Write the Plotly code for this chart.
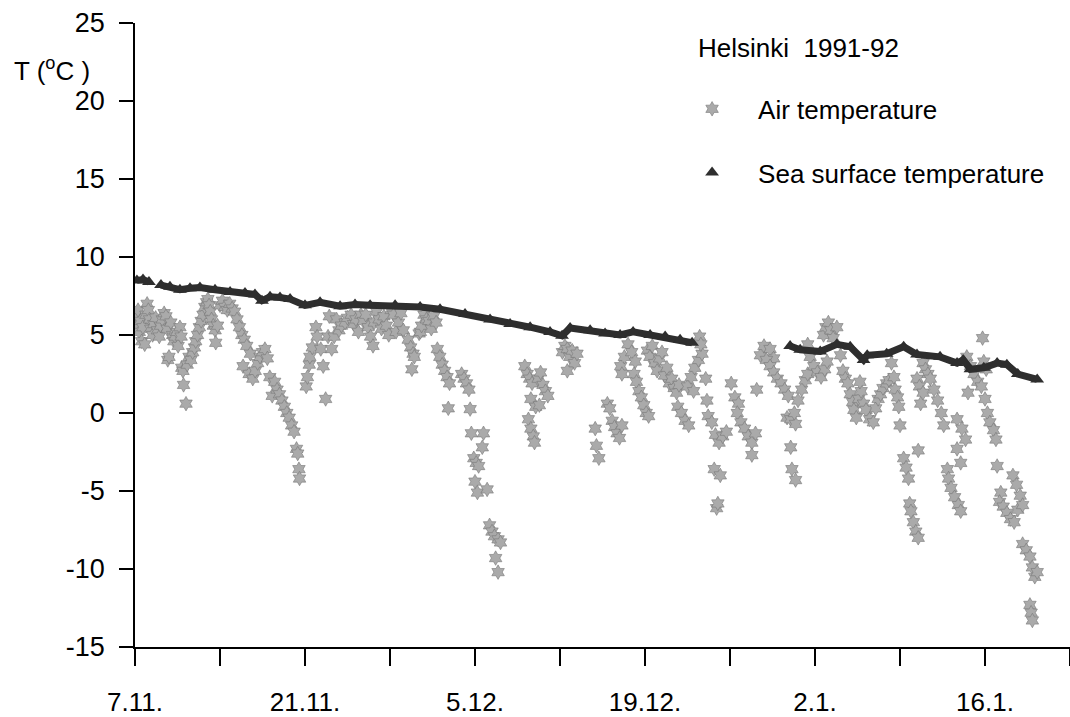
import pandas as pd
import plotly.graph_objects as go

BASE = pd.Timestamp("1991-11-07")

# Air temperature: time (days after 7.11.1991) and temperature (deg C)
air_day = [
    0.05, 0.15, 0.25, 0.35, 0.45, 0.55, 0.65, 0.8, 0.9, 1.0,
    1.1, 1.2, 1.3, 1.45, 1.55, 1.7, 1.85, 2.0, 2.1, 2.25,
    2.4, 2.55, 2.65, 2.7, 2.8, 2.95, 3.1, 3.2, 3.3, 3.45,
    3.55, 3.7, 3.8, 3.85, 3.95, 4.0, 4.2, 4.3, 4.45, 4.6,
    4.75, 4.9, 5.0, 5.15, 5.3, 5.45, 5.6, 5.75, 5.9, 6.0,
    6.1, 6.2, 6.3, 6.45, 6.6, 6.65, 6.8, 7.0, 7.2, 7.4,
    7.6, 7.8, 8.0, 8.2, 8.4, 8.6, 8.8, 8.9, 9.0, 9.2,
    9.4, 9.5, 9.7, 9.9, 10.1, 10.3, 10.5, 10.7, 10.9, 11.1,
    11.3, 11.5, 11.7, 11.9, 12.1, 12.3, 12.5, 12.7, 12.9, 13.1,
    13.3, 13.4, 13.5, 13.55,
    14.1, 14.2, 14.35, 14.4, 14.6, 14.9, 15.0, 15.3, 15.5, 15.7,
    15.9, 16.0, 16.2, 16.4, 16.6, 16.8, 17.0, 17.3, 17.5, 17.8,
    18.0, 18.2, 18.4, 18.6, 18.8, 19.0, 19.2, 19.4, 19.6, 19.7,
    19.9, 20.1, 20.3, 20.5, 20.7, 20.9, 21.1, 21.3, 21.5, 21.7,
    21.9, 22.1, 22.5, 22.7, 22.9, 23.0, 22.8, 23.4, 23.5, 23.6,
    23.8, 24.0, 24.2, 24.4, 24.6, 24.8,
    24.9, 25.1, 25.3, 25.5, 25.7, 25.9, 25.8, 26.9, 27.1, 27.3,
    27.5, 27.6, 27.7, 28.7, 28.6, 27.9, 28.1, 28.3, 28.0, 28.2,
    29.0, 29.2, 29.4, 29.6, 29.9, 30.1, 29.7, 29.9,
    32.1, 32.3, 32.5, 32.7, 33.2, 33.4, 33.6, 33.8, 34.0, 32.6,
    33.0, 33.3, 32.4, 32.6, 32.8, 32.9, 35.2, 35.4, 35.6, 35.8,
    36.0, 36.2, 36.4, 35.6, 37.9, 38.0, 38.2,
    38.9, 39.1, 39.3, 39.5, 39.7, 39.9, 40.1, 40.0, 40.3, 40.6,
    40.9, 41.2, 40.1, 41.1, 41.3, 41.5, 41.7, 41.9, 42.1, 42.3,
    42.2, 42.4, 42.6, 42.8, 43.0, 43.2, 43.4, 43.6, 43.8, 44.0,
    44.2, 44.4, 44.6, 44.8, 44.7, 45.0, 45.3, 45.6, 45.5, 45.8,
    46.1, 46.4, 46.7, 46.5, 46.6, 46.0, 47.0, 47.1,
    47.2, 47.5, 47.8, 48.1, 48.4, 48.7, 47.7, 48.2, 47.9, 48.0,
    49.1, 49.4, 49.7, 49.6, 49.9, 50.2, 50.5, 50.8, 51.1, 50.8,
    51.2, 51.5, 51.8, 52.3, 52.6, 52.0, 52.3, 52.6, 52.9, 53.2,
    53.5, 53.8, 53.7, 54.0, 54.4, 54.0, 54.1, 54.4,
    54.3, 54.6, 54.9, 55.2, 55.4, 55.4, 55.6, 55.9, 56.2, 56.5,
    56.8, 57.0, 56.7, 56.9, 57.1, 57.3, 57.5, 57.8, 58.1,
    58.3, 58.5, 58.7, 58.9, 59.1, 59.2, 59.4, 59.6, 59.8, 59.7,
    60.0, 60.2, 60.5, 60.8, 61.0, 61.2, 61.4, 61.6, 61.9, 62.1,
    62.3, 62.5, 62.6, 62.8, 62.9, 63.0,
    63.3, 63.5, 63.7, 63.8, 63.9, 64.1, 64.3, 64.5, 64.5, 64.7,
    64.9, 65.1, 65.3, 64.4, 64.6, 64.9, 65.5, 65.8, 66.1, 66.4,
    66.6, 66.9, 67.0, 67.2, 67.5, 67.8, 68.0, 67.7, 68.0, 67.7,
    68.1, 68.4, 68.6,
    68.5, 68.8, 69.1, 69.4, 69.7, 69.9, 70.1, 69.8, 70.0, 70.2,
    70.4, 70.7, 70.9, 71.0, 71.3, 71.2, 71.5, 71.8, 72.1, 72.4,
    72.7, 72.3, 72.6, 72.9, 73.1, 73.1, 73.4, 73.7, 73.9, 74.1,
    74.3, 73.7, 73.8, 73.9,
]
air_temp = [
    6.2, 5.6, 6.6, 5.2, 5.9, 4.6, 5.5, 4.4, 6.3, 7.0,
    6.6, 6.0, 5.4, 5.0, 5.7, 6.1, 5.3, 4.9, 5.6, 6.0,
    6.4, 6.2, 5.4, 3.4, 3.6, 5.8, 5.0, 4.6, 4.9, 5.2,
    4.3, 5.5, 4.9, 2.9, 2.7, 1.8, 0.6, 3.1, 3.6, 3.4,
    3.9, 4.2, 4.6, 5.0, 5.5, 5.9, 6.3, 6.8, 7.1, 7.3,
    6.9, 6.5, 6.0, 5.6, 5.3, 4.5, 5.6, 6.9, 7.2, 6.8,
    6.6, 7.0, 6.7, 6.5, 6.0, 5.5, 5.0, 3.0, 4.7, 4.3,
    2.5, 3.8, 2.2, 2.7, 3.2, 3.6, 3.9, 4.1, 3.5, 2.3,
    1.1, 2.0, 1.5, 1.2, 0.8, 0.4, 0.0, -0.3, -0.8, -1.2,
    -2.3, -2.6, -3.6, -4.2,
    1.7, 2.3, 3.1, 3.6, 4.2, 5.5, 4.9, 4.1, 3.0, 0.9,
    4.9, 6.2, 4.1, 4.9, 6.0, 5.3, 5.6, 5.8, 6.1, 6.3,
    5.7, 6.0, 5.2, 6.3, 5.9, 6.3, 5.5, 4.9, 4.3, 5.8,
    6.5, 6.0, 5.4, 6.2, 5.6, 5.0, 6.6, 6.3, 5.2, 5.8,
    6.4, 5.3, 4.7, 4.2, 3.8, 3.6, 2.8, 5.1, 5.2, 5.6,
    6.3, 6.0, 5.9, 5.4, 6.2, 5.8,
    4.1, 3.6, 3.1, 2.7, 2.3, 1.9, 0.3, 2.5, 2.2, 1.9,
    1.5, 0.25, -1.3, -1.3, -2.2, -2.9, -3.2, -3.4, -4.4, -5.1,
    -4.9, -7.2, -7.6, -7.9, -8.1, -8.3, -9.3, -10.2,
    3.0, 2.5, 2.2, 1.9, 2.2, 2.6, 1.8, 1.4, 1.1, 0.9,
    0.4, 0.5, -0.4, -1.0, -1.5, -1.9, 3.9, 4.3, 4.1, 3.6,
    4.0, 3.2, 3.8, 2.7, -1.0, -2.1, -2.9,
    0.6, 0.3, -0.5, -0.9, -1.3, -1.6, -0.8, 3.0, 3.6, 4.4,
    3.9, 3.3, 2.5, 2.5, 2.0, 1.4, 1.0, 0.5, 0.0, -0.2,
    4.0, 3.6, 4.3, 3.2, 2.7, 3.5, 3.9, 2.4, 2.9, 1.9,
    2.2, 1.6, 1.3, 1.8, 0.4, 0.0, -0.5, -0.8, 1.7, 2.3,
    2.9, 3.4, 3.8, 4.9, 4.4, 1.4, 2.2, 0.8,
    -0.2, -0.6, -1.4, -1.9, -1.5, -1.2, -3.6, -4.0, -6.1, -5.8,
    1.9, 1.0, 0.6, 0.0, -0.6, -1.0, -1.5, -1.9, -1.3, -2.7,
    1.5, 3.7, 4.3, 4.1, 3.5, 3.4, 3.0, 2.6, 2.2, 1.9,
    1.5, 1.1, -0.3, -0.4, -0.7, -2.2, -3.6, -4.3,
    0.0, 0.8, 1.5, 2.1, 2.5, 4.4, 3.6, 3.0, 2.6, 2.3,
    2.8, 3.3, 5.0, 5.5, 5.8, 5.3, 4.8, 5.5, 3.7,
    2.7, 2.2, 1.9, 1.2, 0.7, 0.2, -0.3, 0.9, 1.4, 2.0,
    0.6, 0.2, -0.4, -0.6, 0.3, 0.9, 1.2, 1.6, 1.9, 2.1,
    3.2, 2.3, 1.5, 1.0, 0.4, -0.8,
    -2.9, -3.5, -4.2, -5.8, -6.3, -7.0, -7.6, -8.0, -2.4, 0.6,
    3.2, 2.8, 2.5, 2.2, 1.7, 1.3, 2.2, 1.5, 0.8, 0.0,
    -0.8, -3.6, -4.2, -4.8, -5.4, -5.9, -6.3, -2.3, -3.2, -0.4,
    -1.0, -1.7, 1.3,
    3.6, 3.0, 2.5, 2.0, 1.7, 3.3, 2.8, 4.8, 0.9, 0.0,
    -0.6, -1.1, -1.7, -3.4, -5.1, -5.7, -6.0, -6.4, -6.8, -7.0,
    -6.2, -4.0, -4.6, -5.3, -5.9, -8.4, -8.8, -9.2, -9.9, -10.5,
    -10.2, -12.3, -12.8, -13.3,
]

# Sea surface temperature (None marks gaps in the record)
sea_day = [
    0.16, 0.66, 1.15, 1.6, 2.14, 2.88, 3.7, 4.53, 5.35, 6.59,
    7.83, 9.06, 9.88, 10.46, 11.12, 11.94, 12.77, 14.0, 15.24, 16.89,
    18.12, 19.36, 21.42, 23.48, 25.12, 27.18, 29.24, 30.89, 32.54, 34.18,
    35.17, 35.83, 37.48, 38.71, 39.95, 41.02, 42.42, 43.66, 44.89, 45.88,
    50.0,
    53.95, 54.78, 56.43, 57.8, 58.9, 60.0, 60.3, 61.9, 63.3, 64.4,
    66.3, 67.7, 68.2, 68.8, 69.9, 71.0, 71.8, 72.7, 74.3,
]
sea_temp = [
    8.5, 8.55, 8.4, None, 8.2, 8.1, 7.9, 8.0, 8.05, 7.9,
    7.75, 7.7, 7.6, 7.2, 7.45, 7.4, 7.3, 6.9, 7.1, 6.85,
    6.95, 6.9, 6.9, 6.8, 6.65, 6.35, 6.0, 5.7, 5.5, 5.2,
    4.95, 5.45, 5.3, 5.1, 5.0, 5.2, 5.0, 4.9, 4.7, 4.5,
    None,
    4.3, 4.05, 3.95, 4.4, 4.25, 3.4, 3.7, 3.8, 4.25, 3.75,
    3.6, 3.2, 3.4, 2.8, 2.9, 3.2, 3.1, 2.5, 2.15,
]

# Axis ticks
x_label_dates = ["1991-11-07", "1991-11-21", "1991-12-05", "1991-12-19",
                 "1992-01-02", "1992-01-16"]
x_labels = ["7.11.", "21.11.", "5.12.", "19.12.", "2.1.", "16.1."]
y_ticks = [-15, -10, -5, 0, 5, 10, 15, 20, 25]
y_labels = ["-15", "-10", "-5", "0", "5", "10", "15", "20", "25"]

air_x = BASE + pd.to_timedelta(air_day, unit="D")
sea_x = BASE + pd.to_timedelta(sea_day, unit="D")

FONT = "Liberation Sans, Arial, Helvetica, sans-serif"
SEA_COLOR = "#2e2e2e"
WEEK_MS = 7 * 24 * 3600 * 1000

fig = go.Figure()
fig.add_trace(go.Scatter(
    x=air_x, y=air_temp, mode="markers", name="Air temperature",
    legendgroup="air",
    marker=dict(symbol="hexagram", size=11, color="#aaaaaa",
                line=dict(color="#777777", width=0.6)),
))
fig.add_trace(go.Scatter(
    x=sea_x, y=sea_temp, mode="lines", showlegend=False, legendgroup="sea",
    line=dict(color=SEA_COLOR, width=7), connectgaps=False,
))
fig.add_trace(go.Scatter(
    x=sea_x, y=sea_temp, mode="markers", name="Sea surface temperature",
    legendgroup="sea",
    marker=dict(symbol="triangle-up", size=12, color=SEA_COLOR),
))

fig.update_layout(
    width=1070, height=717,
    margin=dict(l=135, r=0, t=23, b=64),
    paper_bgcolor="white", plot_bgcolor="white",
    font=dict(family=FONT, size=25, color="black"),
    showlegend=True,
    legend=dict(x=0.568, y=0.90, xanchor="left", yanchor="top",
                font=dict(size=26, family=FONT), itemwidth=82,
                tracegroupgap=27, bgcolor="rgba(0,0,0,0)",
                traceorder="grouped"),
    annotations=[
        dict(text="Helsinki  1991-92", xref="paper", yref="paper",
             x=0.600, y=0.960, xanchor="left", yanchor="middle",
             showarrow=False, font=dict(size=26, family=FONT)),
        dict(text="T (<sup>o</sup>C )", xref="paper", yref="paper",
             x=-0.1316, y=0.925, xanchor="left", yanchor="middle",
             showarrow=False, font=dict(size=26, family=FONT)),
    ],
)
fig.update_xaxes(
    type="date", range=["1991-11-07", "1992-01-23"],
    tickmode="array", tickvals=x_label_dates, ticktext=x_labels,
    ticks="outside", ticklen=17, tickwidth=1.5, tickcolor="black",
    ticklabelstandoff=14,
    minor=dict(ticks="outside", ticklen=17, tickwidth=1.5, tickcolor="black",
               dtick=WEEK_MS, tick0="1991-11-07", showgrid=False),
    showline=True, linecolor="black", linewidth=1.5,
    showgrid=False, zeroline=False,
    tickfont=dict(size=26, family=FONT),
)
fig.update_yaxes(
    range=[-15, 25], tickmode="array", tickvals=y_ticks, ticktext=y_labels,
    ticks="outside", ticklen=14, tickwidth=1.5, tickcolor="black",
    ticklabelstandoff=9,
    showline=True, linecolor="black", linewidth=1.5,
    showgrid=False, zeroline=False,
    tickfont=dict(size=27, family=FONT),
)

fig.write_html("out.html")
